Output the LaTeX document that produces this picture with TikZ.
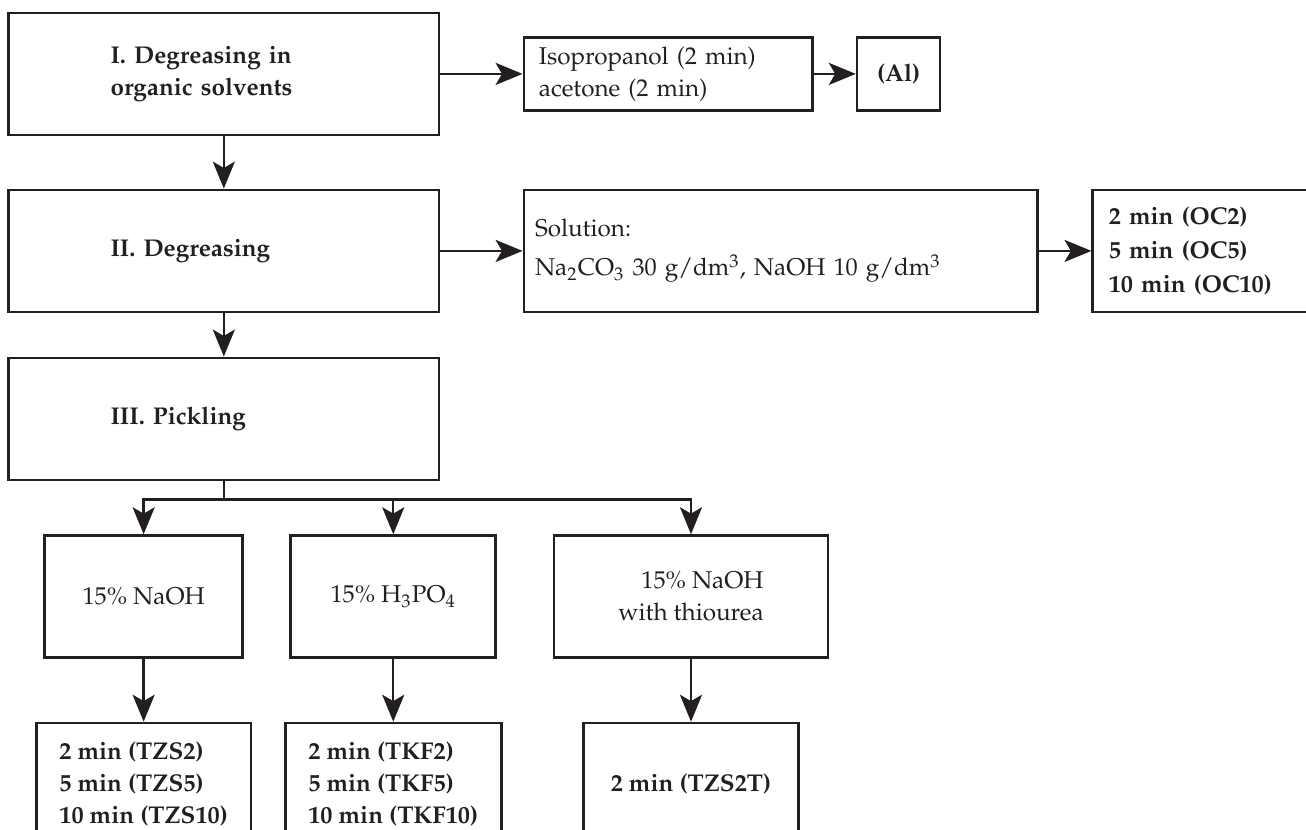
\documentclass[tikz,border=0pt]{standalone}
\usepackage[T1]{fontenc}
\usepackage{mathpazo}
\usepackage{xcolor}
\usepackage{tikz}
\usetikzlibrary{arrows.meta, positioning, calc}

\definecolor{ink}{RGB}{35,31,32}

\begin{document}
\begin{tikzpicture}[>={Stealth[length=11pt, width=9pt, inset=2.6pt]}, node distance=0.75cm,
  every node/.style={text=ink, font=\fontsize{9.9}{13}\selectfont},
  box/.style={draw=ink, line width=1.1pt, inner ysep=0pt},
  stage/.style={box, font=\fontsize{9.9}{13}\selectfont\bfseries, minimum height=1.75cm,
    text width=3.25cm, inner xsep=1.46cm, align=left},
  solvent/.style={box, minimum height=1.05cm, text width=3.71cm, inner xsep=0.215cm, align=left},
  metal/.style={box, font=\fontsize{9.9}{13}\selectfont\bfseries, minimum height=1.05cm, minimum width=1.19cm},
  bathdesc/.style={box, minimum height=1.75cm, text width=7.05cm, inner xsep=0.16cm, align=left},
  timing/.style={box, font=\fontsize{9.9}{13}\selectfont\bfseries, minimum height=1.75cm,
    text width=2.62cm, inner xsep=0.23cm, align=left},
  bath/.style={box, minimum height=1.75cm, align=center},
  result/.style={box, font=\fontsize{9.9}{13}\selectfont\bfseries, minimum height=1.75cm,
    minimum width=3.08cm, align=left},
  link/.style={->, draw=ink, line width=0.95pt}]

\useasboundingbox (0,0) rectangle (18.73,-11.90);

% Main steps
\node[stage] (deg1) at (3.21,-1.06) {I. Degreasing in\\organic solvents};
\node[stage, below=0.75cm of deg1] (deg2) {II. Degreasing};
\node[stage, below=0.62cm of deg2] (pick) {III. Pickling};

% Step I branch
\node[solvent, right=1.18cm of deg1] (solv) {Isopropanol (2 min)\\acetone (2 min)};
\node[metal, right=0.6cm of solv] (al) {(Al)};

% Step II branch
\node[bathdesc, right=1.18cm of deg2] (soln) {Solution:\\[3pt]
  Na\textsubscript{2}CO\textsubscript{3} 30 g/dm\textsuperscript{3}, NaOH 10 g/dm\textsuperscript{3}\\[4pt]};
\node[timing, right=0.75cm of soln] (oc) {2 min (OC2)\\[1pt]5 min (OC5)\\[1pt]10 min (OC10)};

% Pickling baths
\node[bath, minimum width=2.84cm, below=0.76cm of pick, xshift=-1.15cm] (naoh) {15\% NaOH};
\node[bath, minimum width=2.94cm, below=0.76cm of pick, xshift=2.43cm] (phos) {15\% H\textsubscript{3}PO\textsubscript{4}};
\node[bath, minimum width=3.93cm, below=0.76cm of pick, xshift=6.70cm, align=right] (thio) {15\% NaOH\\with thiourea};

% Pickling times
\node[result, below=0.9cm of naoh] (tzs) {2 min (TZS2)\\5 min (TZS5)\\10 min (TZS10)};
\node[result, minimum width=3.10cm, below=0.9cm of phos] (tkf) {2 min (TKF2)\\5 min (TKF5)\\10 min (TKF10)};
\node[result, below=0.9cm of thio] (tzst) {2 min (TZS2T)};

% Arrows between steps
\draw[link] (deg1) -- (deg2);
\draw[link] (deg2) -- (pick);
\draw[link] (deg1) -- (solv);
\draw[link] (solv) -- (al);
\draw[link] (deg2) -- (soln);
\draw[link] (soln) -- (oc);

% Split after pickling
\coordinate[below=0.26cm of pick] (split);
\draw[draw=ink, line width=0.95pt] (pick) -- (split);
\draw[link] (split) -| (naoh);
\draw[link] (split) -| (phos);
\draw[link] (split) -| (thio);

\draw[link] (naoh) -- (tzs);
\draw[link] (phos) -- (tkf);
\draw[link] (thio) -- (tzst);

\end{tikzpicture}
\end{document}
